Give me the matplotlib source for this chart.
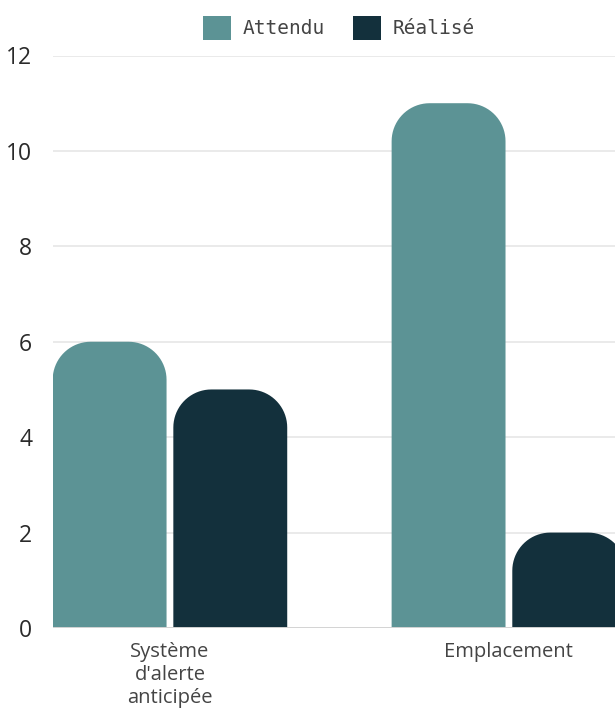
import numpy as np
import matplotlib.pyplot as plt
from matplotlib.path import Path
from matplotlib.patches import PathPatch, Patch

# =========================================
# DATA
# =========================================
categories = ["Système\nd'alerte\nanticipée", "Emplacement"]
series_names = ["Attendu", "Réalisé"]
attendu = [6, 11]
realise = [5, 2]

yticks = [0, 2, 4, 6, 8, 10, 12]

# =========================================
# STYLE
# =========================================
TEAL = "#5c9395"
DARK = "#13303c"
GRID = "#e6e6e6"
TEXT = "#2a2a2a"
FONT = ["Open Sans", "DejaVu Sans"]

BAR_W  = 0.336
OFFSET = 0.178
CORNER_PX = 38   # corner radius in pixels

plt.rcParams['font.family'] = FONT

fig = plt.figure(figsize=(6.15, 7.13), dpi=100)
ax = fig.add_axes([53 / 615, (713 - 628) / 713, 1 - 53 / 615, (628 - 55.5) / 713])

x = np.arange(len(categories))
ax.set_xlim(-0.345, 1.313)
ax.set_ylim(0, 12)


def rounded_top(rect, color):
    """swap a bar rectangle for one with rounded top corners"""
    x0, y0 = rect.get_x(), rect.get_y()
    w, h = rect.get_width(), rect.get_height()
    # pixel -> data scale, so corners look circular on screen
    bb = ax.get_window_extent()
    sx = (ax.get_xlim()[1] - ax.get_xlim()[0]) / bb.width
    sy = (ax.get_ylim()[1] - ax.get_ylim()[0]) / bb.height
    rx = min(CORNER_PX * sx, w / 2)
    ry = min(CORNER_PX * sy, h)
    t = np.linspace(0, np.pi / 2, 20)
    right = [(x0 + w - rx + rx * np.cos(a), y0 + h - ry + ry * np.sin(a)) for a in t]
    left = [(x0 + rx - rx * np.sin(a), y0 + h - ry + ry * np.cos(a)) for a in t]
    verts = [(x0, y0), (x0 + w, y0)] + right + left + [(x0, y0)]
    codes = [Path.MOVETO] + [Path.LINETO] * (len(verts) - 2) + [Path.CLOSEPOLY]
    patch = PathPatch(Path(verts, codes), facecolor=color, edgecolor="none", zorder=3)
    ax.add_patch(patch)
    rect.set_visible(False)


bars1 = ax.bar(x - OFFSET, attendu, BAR_W, color=TEAL)
bars2 = ax.bar(x + OFFSET, realise, BAR_W, color=DARK)
fig.canvas.draw()
for r in bars1:
    rounded_top(r, TEAL)
for r in bars2:
    rounded_top(r, DARK)

# grid & axes
ax.set_yticks(yticks)
ax.yaxis.grid(True, color=GRID, linewidth=1.2, zorder=0)
ax.axhline(0, color="#d4d4d4", linewidth=1.4, zorder=4)
ax.set_axisbelow(True)
for s in ax.spines.values():
    s.set_visible(False)
ax.tick_params(axis="y", length=0, pad=15, labelsize=16.5, labelcolor=TEXT)
ax.tick_params(axis="x", length=0, pad=10, labelsize=14.5, labelcolor="#444444")
ax.set_xticks(x)
ax.set_xticklabels(categories, linespacing=1.22)

# legend
handles = [Patch(facecolor=TEAL), Patch(facecolor=DARK)]
fig.legend(handles, series_names, loc="center", bbox_to_anchor=(339 / 615, 1 - 28 / 713),
           ncol=2, frameon=False, handlelength=1.45, handleheight=1.45,
           handletextpad=0.6, columnspacing=1.4, labelcolor="#444444",
           prop={"family": ["DejaVu Sans Mono"], "size": 14})

plt.savefig("out.png", dpi=100)
